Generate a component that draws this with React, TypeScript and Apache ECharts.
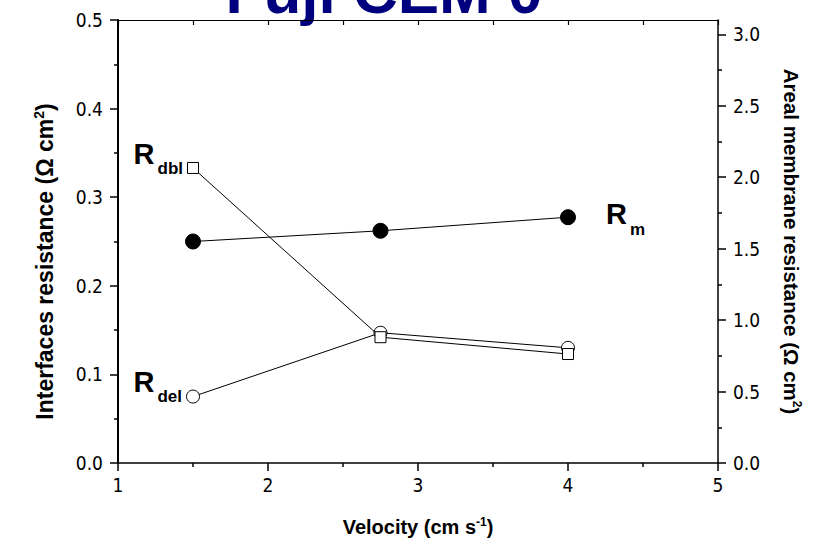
import React, { useEffect, useRef } from "react";
import * as echarts from "echarts";

const velocities = [1.5, 2.75, 4];
const rDbl = [0.333, 0.142, 0.123];
const rDel = [0.075, 0.147, 0.13];
const rM = [1.55, 1.625, 1.72];
const xTicks = [1, 2, 3, 4, 5];
const leftTicks = [0, 0.1, 0.2, 0.3, 0.4, 0.5];
const rightTicks = [0, 0.5, 1.0, 1.5, 2.0, 2.5, 3.0];
const titleText = "Fuji CEM 0";

const FONT = "'Liberation Sans', Arial, sans-serif";
const NARROW = "'Liberation Sans Narrow', 'Arial Narrow', 'DejaVu Sans Condensed', 'Liberation Sans', sans-serif";

const subRich = {
  r: { fontSize: 29, fontWeight: "bold", fontFamily: FONT, color: "#000", verticalAlign: "top", lineHeight: 29 },
  s: { fontSize: 17, fontWeight: "bold", fontFamily: FONT, color: "#000", verticalAlign: "top", lineHeight: 17, padding: [21, 0, 0, 3] },
};

function nameRich(size: number) {
  return {
    a: { fontSize: size, fontWeight: "bold", fontFamily: FONT, color: "#000", lineHeight: size + 2 },
    s: { fontSize: Math.round(size * 0.6), fontWeight: "bold", fontFamily: FONT, color: "#000", verticalAlign: "top", lineHeight: Math.round(size * 0.6) },
  };
}

function pts(vals: number[]) {
  return velocities.map((x, i) => [x, vals[i]]);
}

export default function App() {
  const ref = useRef<HTMLDivElement>(null);
  useEffect(() => {
    const chart = echarts.init(ref.current!, null, { renderer: "svg" });
    const axisLine = { show: true, onZero: false, lineStyle: { color: "#000", width: 1.5 } };
    const label = { fontSize: 19, color: "#000", fontFamily: NARROW };
    const rdblData: any[] = pts(rDbl);
    rdblData[0] = {
      value: rdblData[0],
      label: { show: true, position: "left", distance: 4, offset: [0, -14], formatter: "{r|R}{s|dbl}", rich: subRich },
    };
    const rdelData: any[] = pts(rDel);
    rdelData[0] = {
      value: rdelData[0],
      label: { show: true, position: "left", distance: 4, offset: [0, -15], formatter: "{r|R}{s|del}", rich: subRich },
    };
    const rmData: any[] = pts(rM);
    rmData[2] = {
      value: rmData[2],
      label: { show: true, position: "right", distance: 30, offset: [0, -3], formatter: "{r|R}{s|m}", rich: subRich },
    };
    chart.setOption({
      animation: false,
      grid: { left: 118, right: 109, top: 20, bottom: 87, containLabel: false },
      graphic: [
        {
          type: "text",
          x: 384,
          y: -9,
          style: {
            text: titleText,
            fontSize: 62,
            fontWeight: "bold",
            fontFamily: FONT,
            fill: "#00007f",
            align: "center",
            verticalAlign: "middle",
          },
        },
      ],
      xAxis: [
        {
          type: "value",
          position: "bottom",
          min: 1,
          max: 5,
          interval: 1,
          axisLine,
          axisTick: { show: true, inside: false, length: 8, lineStyle: { color: "#000", width: 1.5 }, customValues: xTicks },
          minorTick: { show: true, splitNumber: 2, length: 4, lineStyle: { color: "#000", width: 1.5 } },
          axisLabel: { ...label, margin: 12, customValues: xTicks },
          splitLine: { show: false },
          name: "{a|Velocity (cm s}{s|-1}{a|)}",
          nameLocation: "middle",
          nameGap: 53,
          nameTextStyle: { rich: nameRich(20) },
        },
        {
          type: "value",
          position: "top",
          min: 1,
          max: 5,
          interval: 0.5,
          axisLine: { show: true, onZero: false, lineStyle: { color: "#000", width: 1.2 } },
          axisTick: { show: true, inside: true, length: 5, lineStyle: { color: "#000", width: 1.2 } },
          axisLabel: { show: false },
          splitLine: { show: false },
        },
      ],
      yAxis: [
        {
          type: "value",
          position: "left",
          min: 0,
          max: 0.5,
          interval: 0.1,
          axisLine: { show: true, onZero: false, lineStyle: { color: "#000", width: 2 } },
          axisTick: { show: true, inside: false, length: 8, lineStyle: { color: "#000", width: 1.5 }, customValues: leftTicks },
          minorTick: { show: true, splitNumber: 2, length: 4, lineStyle: { color: "#000", width: 1.5 } },
          axisLabel: { ...label, margin: 15, customValues: leftTicks, formatter: (v: number) => v.toFixed(1) },
          splitLine: { show: false },
          name: "{a|Interfaces resistance (Ω cm}{s|2}{a|)}",
          nameLocation: "middle",
          nameGap: 61,
          nameRotate: 90,
          nameTextStyle: { rich: nameRich(23), padding: [0, 40, 0, 0] },
        },
        {
          type: "value",
          position: "right",
          min: 0,
          max: 3.1,
          interval: 0.5,
          axisLine,
          axisTick: { show: true, inside: false, length: 8, lineStyle: { color: "#000", width: 1.5 }, customValues: rightTicks },
          minorTick: { show: true, splitNumber: 2, length: 4, lineStyle: { color: "#000", width: 1.5 } },
          axisLabel: { ...label, margin: 15, customValues: rightTicks, formatter: (v: number) => v.toFixed(1) },
          splitLine: { show: false },
          name: "{a|Areal membrane resistance (Ω cm}{s|2}{a|)}",
          nameLocation: "middle",
          nameGap: 62,
          nameRotate: -90,
          nameTextStyle: { rich: nameRich(20.5) },
        },
      ],
      series: [
        {
          name: "Rdbl",
          type: "line",
          xAxisIndex: 0,
          yAxisIndex: 0,
          data: rdblData,
          symbol: "rect",
          symbolSize: 11,
          showAllSymbol: true,
          lineStyle: { color: "#000", width: 1 },
          itemStyle: { color: "#fff", borderColor: "#000", borderWidth: 1 },
          z: 3,
        },
        {
          name: "Rdel",
          type: "line",
          xAxisIndex: 0,
          yAxisIndex: 0,
          data: rdelData,
          symbol: "circle",
          symbolSize: 13,
          showAllSymbol: true,
          lineStyle: { color: "#000", width: 1 },
          itemStyle: { color: "#fff", borderColor: "#000", borderWidth: 1 },
          z: 2,
        },
        {
          name: "Rm",
          type: "line",
          xAxisIndex: 0,
          yAxisIndex: 1,
          data: rmData,
          symbol: "circle",
          symbolSize: 15,
          showAllSymbol: true,
          lineStyle: { color: "#000", width: 1 },
          itemStyle: { color: "#000", borderColor: "#000", borderWidth: 1 },
          z: 4,
        },
      ],
    });
    return () => chart.dispose();
  }, []);
  return (
    <div
      ref={ref}
      style={{ position: "fixed", left: 0, top: 0, width: 827, height: 550, background: "#fff" }}
    />
  );
}
